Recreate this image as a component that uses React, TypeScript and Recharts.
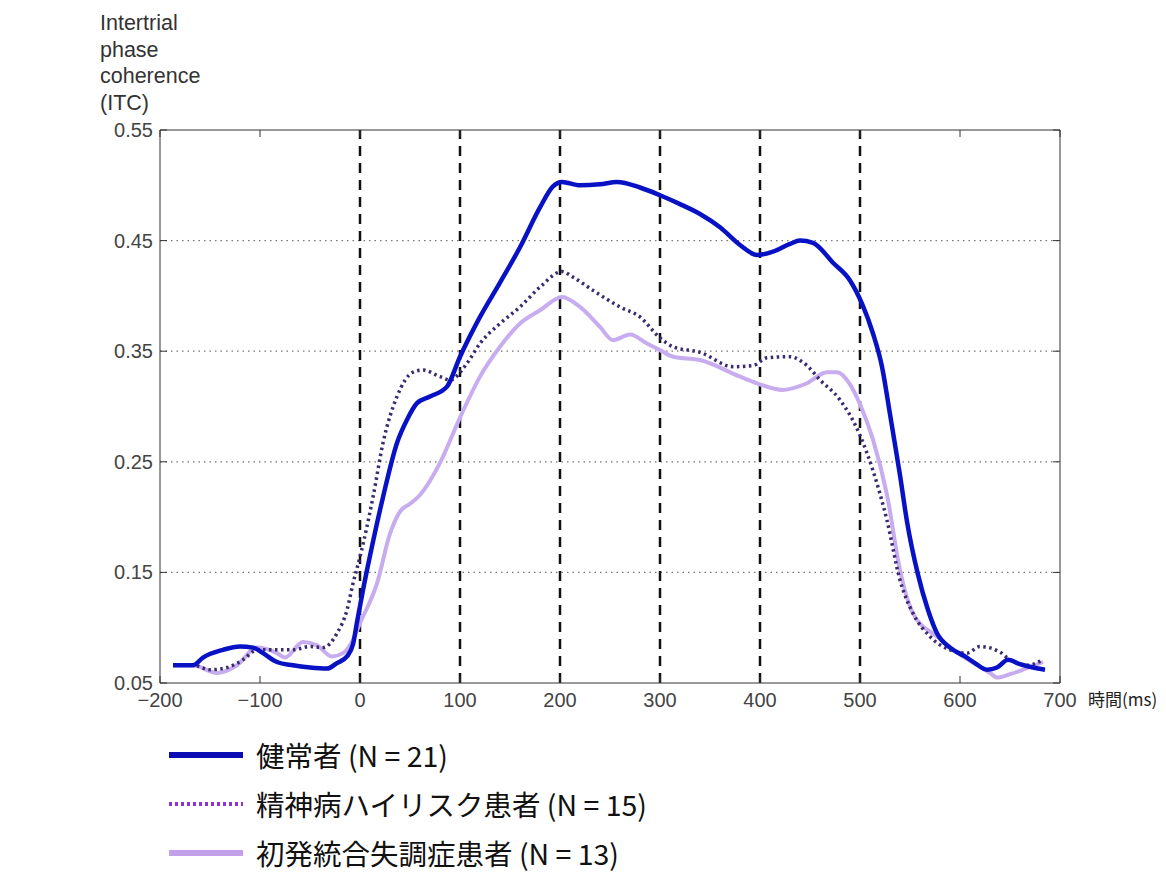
import { LineChart, Line, XAxis, YAxis, ReferenceLine } from 'recharts';

// time axis (ms) and ITC ticks
const xTicks = [-200, -100, 0, 100, 200, 300, 400, 500, 600, 700];
const yTicks = [0.05, 0.15, 0.25, 0.35, 0.45, 0.55];
const stimLines = [0, 100, 200, 300, 400, 500];
const gridLevels = [0.15, 0.25, 0.35, 0.45];

// 健常者
const healthyT = [-187, -167, -157, -137, -120, -107, -97, -83, -67, -50, -33, -23, -13, -7, -3, 3, 10, 23, 37, 47, 57, 70, 87, 100, 120, 140, 160, 180, 193, 202, 220, 240, 257, 280, 300, 320, 340, 360, 380, 397, 413, 430, 440, 453, 473, 490, 502, 513, 522, 530, 540, 547, 558, 568, 577, 590, 605, 615, 627, 637, 648, 660, 673, 685];
const healthyITC = [0.066, 0.066, 0.073, 0.080, 0.083, 0.082, 0.077, 0.069, 0.066, 0.064, 0.063, 0.068, 0.074, 0.085, 0.105, 0.134, 0.165, 0.218, 0.267, 0.288, 0.303, 0.309, 0.318, 0.345, 0.381, 0.412, 0.444, 0.480, 0.499, 0.503, 0.500, 0.501, 0.503, 0.498, 0.491, 0.483, 0.474, 0.462, 0.446, 0.437, 0.440, 0.447, 0.450, 0.448, 0.430, 0.414, 0.393, 0.366, 0.336, 0.293, 0.238, 0.196, 0.148, 0.116, 0.095, 0.082, 0.074, 0.068, 0.062, 0.064, 0.071, 0.067, 0.064, 0.062];

// 精神病ハイリスク患者
const riskT = [-187, -167, -150, -133, -117, -103, -83, -67, -50, -37, -23, -13, -7, 0, 13, 23, 37, 53, 63, 80, 90, 107, 120, 140, 160, 180, 202, 213, 233, 260, 280, 300, 313, 340, 373, 393, 407, 430, 447, 460, 480, 500, 513, 527, 540, 553, 570, 590, 607, 620, 640, 647, 667, 683];
const riskITC = [0.066, 0.066, 0.062, 0.064, 0.071, 0.080, 0.080, 0.080, 0.083, 0.082, 0.095, 0.116, 0.140, 0.164, 0.218, 0.267, 0.309, 0.331, 0.333, 0.327, 0.324, 0.339, 0.357, 0.375, 0.390, 0.408, 0.422, 0.417, 0.405, 0.390, 0.381, 0.362, 0.354, 0.349, 0.336, 0.337, 0.344, 0.345, 0.337, 0.324, 0.306, 0.274, 0.242, 0.197, 0.143, 0.113, 0.092, 0.080, 0.077, 0.083, 0.078, 0.073, 0.066, 0.071];

// 初発統合失調症患者
const firstT = [-187, -167, -143, -123, -103, -83, -75, -57, -43, -28, -17, -7, 0, 17, 30, 40, 50, 60, 80, 100, 120, 140, 160, 180, 202, 220, 240, 253, 270, 287, 300, 313, 340, 380, 397, 423, 447, 467, 477, 490, 500, 513, 527, 540, 553, 577, 603, 630, 637, 650, 663, 683];
const firstITC = [0.066, 0.066, 0.059, 0.066, 0.082, 0.077, 0.073, 0.087, 0.084, 0.074, 0.077, 0.089, 0.104, 0.140, 0.185, 0.205, 0.212, 0.220, 0.249, 0.290, 0.327, 0.354, 0.375, 0.387, 0.399, 0.390, 0.372, 0.360, 0.365, 0.357, 0.351, 0.345, 0.342, 0.327, 0.321, 0.315, 0.321, 0.331, 0.331, 0.320, 0.302, 0.270, 0.220, 0.152, 0.113, 0.092, 0.074, 0.059, 0.055, 0.058, 0.062, 0.069];

const toPoints = (t: number[], v: number[]) => t.map((ms, i) => ({ ms, itc: v[i] }));

const healthy = toPoints(healthyT, healthyITC);
const risk = toPoints(riskT, riskITC);
const first = toPoints(firstT, firstITC);

const AXIS = '#333';
const TICK_FONT = '"Liberation Sans", Arial, sans-serif';
const JP_FONT = '"Noto Sans CJK JP", sans-serif';

const fmtMs = (v: number) => (v < 0 ? `\u2212${Math.abs(v)}` : `${v}`);

// matlab-style ticks: short marks pointing into the plot
const BottomTick = ({ x, y, payload }: any) => (
  <g>
    <line x1={x} x2={x} y1={y} y2={y - 7} stroke={AXIS} strokeWidth={1} />
    <text x={x} y={y + 24} textAnchor="middle" fontSize={20} fill="#444" fontFamily={TICK_FONT}>
      {fmtMs(payload.value)}
    </text>
  </g>
);

const TopTick = ({ x, y }: any) => (
  <line x1={x} x2={x} y1={y} y2={y + 7} stroke={AXIS} strokeWidth={1} />
);

const LeftTick = ({ x, y, payload }: any) => (
  <g>
    <line x1={x} x2={x + 7} y1={y} y2={y} stroke={AXIS} strokeWidth={1} />
    <text x={x - 7} y={y + 7} textAnchor="end" fontSize={20} fill="#444" fontFamily={TICK_FONT}>
      {payload.value.toFixed(2)}
    </text>
  </g>
);

const RightTick = ({ x, y }: any) => (
  <line x1={x} x2={x - 7} y1={y} y2={y} stroke={AXIS} strokeWidth={1} />
);

const legendItems = [
  { label: '健常者 (N = 21)', color: '#0c0cb4', dash: undefined, width: 6 },
  { label: '精神病ハイリスク患者 (N = 15)', color: '#9030d8', dash: '3 3', width: 4 },
  { label: '初発統合失調症患者 (N = 13)', color: '#c4a0ea', dash: undefined, width: 6 },
];

export default function App() {
  return (
    <div
      style={{
        position: 'absolute',
        left: 0,
        top: 0,
        width: 1166,
        height: 873,
        background: '#fff',
        overflow: 'hidden',
      }}
    >
      <div
        style={{
          position: 'absolute',
          left: 100,
          top: 10,
          fontFamily: TICK_FONT,
          fontSize: 21.5,
          lineHeight: '26.5px',
          color: '#333',
        }}
      >
        Intertrial
        <br />
        phase
        <br />
        coherence
        <br />
        (ITC)
      </div>

      <div style={{ position: 'absolute', left: 0, top: 0 }}>
        <LineChart width={1166} height={720} margin={{ top: 129, right: 105, bottom: 7, left: 100 }}>
          <XAxis
            dataKey="ms"
            type="number"
            domain={[-200, 700]}
            ticks={xTicks}
            allowDataOverflow
            height={30}
            tickSize={0}
            tickMargin={0}
            tickLine={false}
            stroke={AXIS}
            tick={<BottomTick />}
            interval={0}
          />
          <XAxis
            xAxisId="top"
            orientation="top"
            dataKey="ms"
            type="number"
            domain={[-200, 700]}
            ticks={xTicks}
            allowDataOverflow
            height={1}
            tickSize={0}
            tickMargin={0}
            tickLine={false}
            stroke={AXIS}
            tick={<TopTick />}
            interval={0}
          />
          <YAxis
            type="number"
            domain={[0.05, 0.55]}
            ticks={yTicks}
            allowDataOverflow
            width={60}
            tickSize={0}
            tickMargin={0}
            tickLine={false}
            stroke={AXIS}
            tick={<LeftTick />}
            interval={0}
          />
          <YAxis
            yAxisId="right"
            orientation="right"
            type="number"
            domain={[0.05, 0.55]}
            ticks={yTicks}
            allowDataOverflow
            width={1}
            tickSize={0}
            tickMargin={0}
            tickLine={false}
            stroke={AXIS}
            tick={<RightTick />}
            interval={0}
          />

          {gridLevels.map((v) => (
            <ReferenceLine key={`g${v}`} y={v} stroke="#777" strokeWidth={1.2} strokeDasharray="1.5 4" />
          ))}
          {stimLines.map((v) => (
            <ReferenceLine key={`s${v}`} x={v} stroke="#111" strokeWidth={2.5} strokeDasharray="10 7" />
          ))}

          <Line
            data={first}
            dataKey="itc"
            type="monotone"
            stroke="#c7acef"
            strokeWidth={4}
            dot={false}
            activeDot={false}
            isAnimationActive={false}
          />
          <Line
            data={risk}
            dataKey="itc"
            type="monotone"
            stroke="#3a2a70"
            strokeWidth={3.5}
            strokeDasharray="2.5 3.5"
            dot={false}
            activeDot={false}
            isAnimationActive={false}
          />
          <Line
            data={healthy}
            dataKey="itc"
            type="monotone"
            stroke="#0812c4"
            strokeWidth={4.5}
            dot={false}
            activeDot={false}
            isAnimationActive={false}
          />
        </LineChart>
      </div>

      <div
        style={{
          position: 'absolute',
          left: 1088,
          top: 686,
          fontFamily: JP_FONT,
          fontSize: 17,
          color: '#222',
        }}
      >
        時間(ms)
      </div>

      {legendItems.map((item, i) => (
        <div
          key={item.label}
          style={{
            position: 'absolute',
            left: 169,
            top: 735 + i * 49,
            height: 40,
            display: 'flex',
            alignItems: 'center',
          }}
        >
          <svg width={74} height={12} style={{ marginRight: 13 }}>
            <line
              x1={0}
              x2={74}
              y1={6}
              y2={6}
              stroke={item.color}
              strokeWidth={item.width}
              strokeDasharray={item.dash}
            />
          </svg>
          <span
            style={{
              fontFamily: JP_FONT,
              fontSize: 28.5,
              lineHeight: 1,
              color: '#111',
              whiteSpace: 'nowrap',
            }}
          >
            {item.label}
          </span>
        </div>
      ))}
    </div>
  );
}
